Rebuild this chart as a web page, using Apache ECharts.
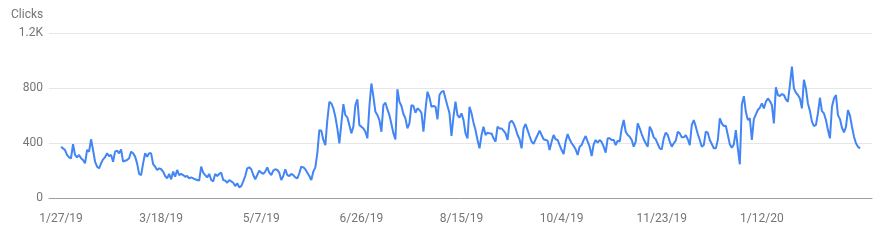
<!DOCTYPE html>
<html>
<head>
<meta charset="utf-8">
<script src="https://cdn.jsdelivr.net/npm/echarts@6/dist/echarts.min.js"></script>
<style>
html,body{margin:0;padding:0;background:#fff;}
#chart{width:882px;height:240px;}
</style>
</head>
<body>
<div id="chart"></div>
<script>
// X tick labels, one every 50 days starting at 1/27/19 (day index 0)
const xTickLabels = ['1/27/19','3/18/19','5/7/19','6/26/19','8/15/19','10/4/19','11/23/19','1/12/20'];
const xTickDays = [0,50,100,150,200,250,300,350];
const yTickLabels = {0:'0',400:'400',800:'800',1200:'1.2K'};
const yAxisTitle = 'Clicks';

// Daily clicks, 1/27/19 .. 2/29/20
const clicks = [
373,361,349,313,296,289,392,313,296,313,
289,276,252,349,337,427,349,264,228,216,
252,281,296,325,305,313,264,337,344,325,
354,264,271,276,289,337,325,301,252,175,
167,252,325,301,325,325,247,228,204,216,
209,192,160,143,175,136,192,155,204,167,
175,167,155,160,
143,150,143,136,131,126,
228,184,167,150,175,131,121,175,160,175,
184,131,126,111,131,121,111,87,107,78,
87,121,160,216,223,209,167,136,167,199,
184,175,192,223,184,167,199,209,204,184,
131,160,209,167,160,175,167,150,143,180,
228,223,209,184,160,131,192,223,
325,494,489,422,
385,567,700,688,652,591,506,397,
543,683,603,586,530,470,519,676,717,530,
519,506,482,434,664,833,737,627,603,567,
482,676,693,644,603,538,470,426,790,700,
669,611,579,506,543,676,669,620,652,640,
620,482,640,773,732,664,669,664,572,749,
771,780,724,669,616,451,591,700,603,
584,616,567,470,434,664,616,548,494,422,
361,458,519,458,475,470,470,434,410,519,
506,506,490,470,422,548,562,543,506,458,
427,361,506,538,494,451,410,393,427,458,
490,458,427,422,417,349,410,458,427,422,
385,349,320,410,465,427,398,378,354,313,
373,385,422,451,410,373,305,390,
422,402,422,407,373,330,434,434,422,422,
385,417,410,506,567,482,458,446,422,373,
410,543,506,465,427,398,373,519,490,441,
427,393,361,354,434,475,458,410,373,398,
417,482,470,441,441,456,427,385,531,567,
519,465,422,373,385,482,475,422,393,361,
361,422,579,543,523,
526,458,390,366,390,494,361,245,
680,740,627,567,579,422,574,608,640,657,
688,652,700,724,705,676,543,805,749,742,
756,749,717,700,821,955,797,766,749,724,
652,860,797,688,632,555,523,531,615,729,
632,615,567,494,434,664,724,749,603,574,
511,477,518,640,599,518,446,398,373,361
];

const seriesData = clicks.map((v, i) => [i, v]);
const chart = echarts.init(document.getElementById('chart'), null, {renderer:'canvas'});
const font = 'Roboto, "Noto Sans", sans-serif';
chart.setOption({
  animation: false,
  backgroundColor: '#ffffff',
  title: {
    text: yAxisTitle,
    left: 11,
    top: 9,
    padding: 0,
    textStyle: {color: '#757575', fontFamily: font, fontSize: 12, fontWeight: 'normal'}
  },
  grid: {left: 49, right: 10, top: 33, bottom: 42, containLabel: false},
  xAxis: {
    type: 'value',
    min: -6,
    max: 405,
    axisLine: {show: true, lineStyle: {color: '#9e9e9e', width: 1}},
    axisTick: {show: false},
    splitLine: {show: false},
    axisLabel: {
      customValues: xTickDays,
      color: '#757575',
      fontFamily: font,
      fontSize: 12,
      margin: 15,
      formatter: function (v) { return xTickLabels[xTickDays.indexOf(Math.round(v))] || ''; }
    }
  },
  yAxis: {
    type: 'value',
    min: 0,
    max: 1200,
    interval: 400,
    axisLine: {show: false},
    axisTick: {show: false},
    splitLine: {show: true, lineStyle: {color: '#e6e6e6', width: 1}},
    axisLabel: {
      color: '#757575',
      fontFamily: font,
      fontSize: 12,
      margin: 6,
      formatter: function (v) { return yTickLabels[v]; }
    }
  },
  series: [{
    type: 'line',
    data: seriesData,
    showSymbol: false,
    smooth: false,
    lineStyle: {color: '#4285f4', width: 2},
    itemStyle: {color: '#4285f4'}
  }]
});
</script>
</body>
</html>
